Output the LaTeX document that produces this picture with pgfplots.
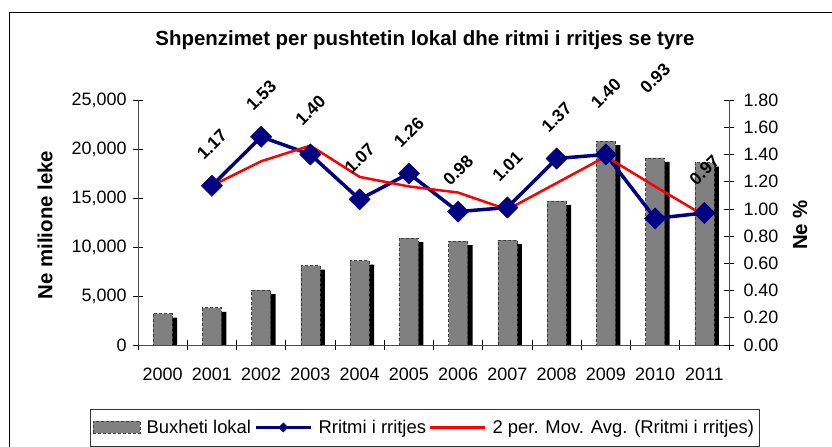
\documentclass[border=0pt]{standalone}
\usepackage{fontspec}
\setmainfont{Liberation Sans}
\usepackage{pgfplots}
\usepackage{pgfplotstable}
\pgfplotsset{compat=1.18}

\definecolor{navyline}{RGB}{0,0,128}
\definecolor{barfill}{RGB}{128,128,128}

% budget, millions of leke
\pgfplotstableread{
x v
0 3200
1 3800
2 5600
3 8100
4 8600
5 10900
6 10600
7 10700
8 14700
9 20800
10 19100
11 18600
}\budget

% growth rate and its 2-period moving average; off = label lift (bp)
\pgfplotstableread{
x r ma off
1 1.17 1.17 41
2 1.53 1.35 41
3 1.40 1.465 44
4 1.07 1.235 41
5 1.26 1.165 41
6 0.98 1.12 41
7 1.01 0.995 41
8 1.37 1.19 41
9 1.40 1.385 61
10 0.93 1.165 140
11 0.97 0.95 43
}\rate

\newcommand{\txt}{\fontsize{18}{21}\selectfont}
\newcommand{\bigtxt}{\fontsize{20.5}{24}\selectfont}

\begin{document}
\begin{tikzpicture}
\useasboundingbox (0,0) rectangle (832bp,447bp);
\draw[line width=1pt] (9bp,-5bp) -- (9bp,434bp) -- (840bp,434bp);

\node[font=\bigtxt\bfseries] at (425bp,407bp) {Shpenzimet per pushtetin lokal dhe ritmi i rritjes se tyre};
\node[font=\bigtxt\bfseries, rotate=90] at (45bp,222bp) {Ne milione leke};
\node[font=\bigtxt\bfseries, rotate=90] at (800bp,222bp) {Ne \%};

\pgfplotsset{
  base/.style={
    at={(138bp,102bp)}, anchor=south west,
    width=591bp, height=245bp, scale only axis,
    xmin=-0.5, xmax=11.5,
    tick align=center, major tick length=10bp,
    tick style={black, line width=0.6pt},
    axis line style={black!70, line width=0.8pt},
    tick label style={font=\txt},
    /pgf/number format/assume math mode=true,
  }
}

\begin{axis}[base,
  ymin=0, ymax=25000,
  axis y line*=left, axis x line*=bottom,
  ytick={0,5000,10000,15000,20000,25000},
  scaled y ticks=false,
  yticklabel style={/pgf/number format/fixed, /pgf/number format/1000 sep={,}, xshift=-3bp},
  xtick={-0.5,0.5,...,11.5},
  x tick label as interval,
  xticklabels={2000,2001,2002,2003,2004,2005,2006,2007,2008,2009,2010,2011},
  xticklabel style={yshift=-14bp},
]
\addplot[ybar, bar width=19bp, bar shift=0pt, fill=barfill,
  draw=black!75, line width=0.6pt, dash pattern=on 3bp off 2bp,
  preaction={fill=black, draw=none, transform canvas={shift={(5bp,-4bp)}}}]
  table[x=x, y=v] {\budget};
\end{axis}

\begin{axis}[base,
  ymin=0, ymax=1.8,
  axis y line*=right, axis x line=none,
  ytick={0,0.2,...,1.8},
  yticklabel style={/pgf/number format/fixed, /pgf/number format/fixed zerofill,
    /pgf/number format/precision=2, xshift=6bp},
  clip=false,
  legend style={at={(0.4848,-0.3367)}, anchor=center, draw=black!80,
    line width=0.6pt, font=\fontsize{18.5}{21}\selectfont, legend columns=3,
    inner xsep=3bp, inner ysep=9bp,
    /tikz/every odd column/.append style={column sep=4bp},
    /tikz/every even column/.append style={column sep=1bp}},
]
\addlegendimage{legend image code/.code={
  \draw[fill=barfill, draw=black!75, line width=0.6pt, dash pattern=on 3bp off 2bp]
    (0bp,-6bp) rectangle (47bp,6bp);}}
\addlegendentry{Buxheti lokal}
\addlegendimage{legend image code/.code={
  \draw[navyline, line width=3.5bp] (0bp,0bp) -- (55bp,0bp);
  \fill[navyline] (27.5bp,4.5bp) -- (32bp,0bp) -- (27.5bp,-4.5bp) -- (23bp,0bp) -- cycle;}}
\addlegendentry{Rritmi i rritjes}
\addlegendimage{legend image code/.code={
  \draw[red, line width=2.5bp] (0bp,0bp) -- (55bp,0bp);}}
\addlegendentry{2 per. Mov. Avg. (Rritmi i rritjes)}

\addplot[navyline, line width=3.5bp, mark=square*, forget plot,
  mark options={rotate=45, solid, fill=navyline, draw=navyline, line width=0.5pt}, mark size=7.5bp,
  point meta=explicit,
  nodes near coords={\pgfmathprintnumber[fixed, fixed zerofill, precision=2]{\pgfplotspointmeta}},
  visualization depends on={\thisrow{off} \as \off},
  every node near coord/.append style={yshift=\off bp, rotate=45, anchor=center,
    font=\fontsize{17.5}{20}\selectfont\bfseries, text=black, inner sep=0pt}]
  table[x=x, y=r, meta=r] {\rate};
\addplot[red, line width=2.5bp, mark=none, forget plot] table[x=x, y=ma] {\rate};
\end{axis}
\end{tikzpicture}
\end{document}
